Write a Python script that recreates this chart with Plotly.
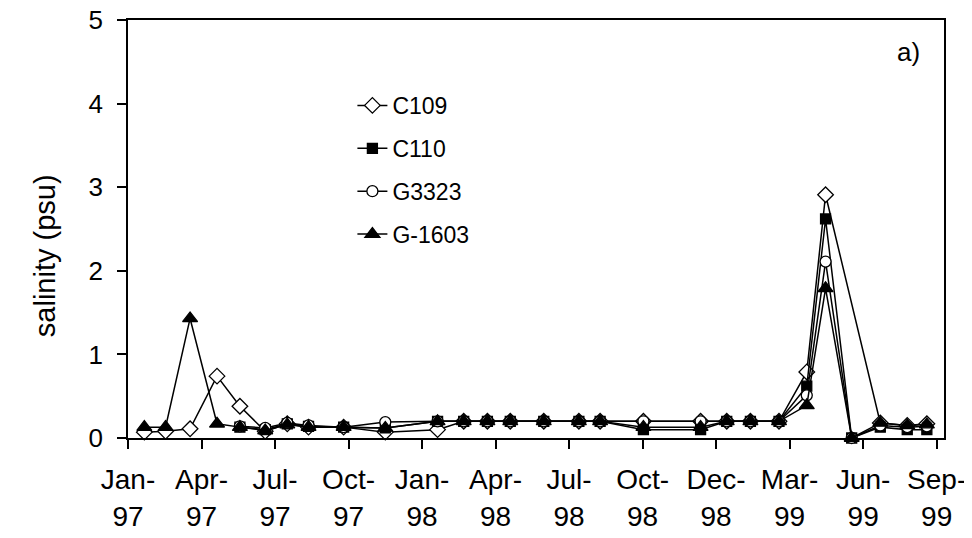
import pandas as pd
import plotly.graph_objects as go

dates = [
    "1997-01-29", "1997-02-24", "1997-03-26", "1997-04-28", "1997-05-26", "1997-06-26",
    "1997-07-23", "1997-08-18", "1997-09-30", "1997-11-20", "1998-01-23", "1998-02-24",
    "1998-03-25", "1998-04-22", "1998-06-02", "1998-07-15", "1998-08-10", "1998-10-02",
    "1998-12-11", "1999-01-12", "1999-02-10", "1999-03-17", "1999-04-20", "1999-05-13",
    "1999-06-14", "1999-07-19", "1999-08-21", "1999-09-14",
]

c109 = [0.07, 0.08, 0.11, 0.74, 0.38, 0.08, 0.17, 0.13, 0.13, 0.07, 0.10, 0.20,
        0.20, 0.20, 0.20, 0.20, 0.20, 0.20, 0.20, 0.20, 0.20, 0.20, 0.79, 2.91,
        None, 0.18, 0.15, 0.17]
c110 = [None, None, None, None, 0.13, 0.10, 0.17, 0.14, 0.13, 0.12, 0.20, 0.20,
        0.20, 0.20, 0.20, 0.20, 0.20, 0.10, 0.10, 0.20, 0.20, 0.20, 0.62, 2.62,
        0.00, 0.13, 0.10, 0.10]
g3323 = [None, None, None, None, 0.14, 0.12, 0.18, 0.15, 0.13, 0.19, 0.20, 0.20,
         0.20, 0.20, 0.20, 0.20, 0.20, 0.20, 0.20, 0.20, 0.20, 0.20, 0.51, 2.11,
         0.00, 0.15, 0.13, 0.14]
g1603 = [0.13, 0.13, 1.43, 0.17, 0.13, 0.09, 0.16, 0.13, 0.13, 0.12, 0.20, 0.20,
         0.20, 0.20, 0.20, 0.20, 0.20, 0.13, 0.13, 0.20, 0.20, 0.20, 0.39, 1.79,
         0.00, 0.18, 0.15, 0.16]

series_names = ["C109", "C110", "G3323", "G-1603"]
tick_start = "1997-01-09"
tick_count = 12
tick_step_days = 90
x_range = ["1997-01-09", "1999-10-05"]
y_ticks = [0, 1, 2, 3, 4, 5]
y_title = "salinity (psu)"
panel_label = "a)"

FONT = "Liberation Sans, Arial, sans-serif"

tickvals = pd.date_range(tick_start, periods=tick_count, freq=f"{tick_step_days}D")
ticktext = [d.strftime("%b-") + "<br>" + d.strftime("%y") for d in tickvals]

styles = [
    dict(symbol="diamond", color="white", size=12),
    dict(symbol="square", color="black", size=10),
    dict(symbol="circle", color="white", size=11),
    dict(symbol="triangle-up", color="black", size=13),
]

fig = go.Figure()
for name, vals, st, grp in zip(series_names, [c109, c110, g3323, g1603], styles, "abcd"):
    fig.add_trace(go.Scatter(
        x=pd.to_datetime(dates), y=vals, name=name, mode="lines+markers",
        legendgroup=grp, connectgaps=True, cliponaxis=False,
        line=dict(color="black", width=1.5),
        marker=dict(symbol=st["symbol"], size=st["size"], color=st["color"],
                    line=dict(color="black", width=1.3)),
    ))

# page body has an 8px default margin, so the figure is sized/offset to compensate
fig.update_layout(
    width=964, height=530,
    margin=dict(l=120, r=28, t=12, b=100, autoexpand=False),
    paper_bgcolor="white", plot_bgcolor="white",
    font=dict(family=FONT, color="black"),
    showlegend=True,
    legend=dict(x=0.275, y=0.847, xanchor="left", yanchor="top",
                font=dict(size=23, family=FONT, color="black"),
                bgcolor="rgba(0,0,0,0)", tracegroupgap=10, itemwidth=30),
    annotations=[
        dict(text=panel_label, x=0.973, y=0.923, xref="paper", yref="paper",
             xanchor="right", yanchor="middle", showarrow=False,
             font=dict(size=26, family=FONT, color="black")),
        dict(text=y_title, x=-0.1017, y=0.435, xref="paper", yref="paper",
             xanchor="center", yanchor="middle", textangle=-90, showarrow=False,
             font=dict(size=29, family=FONT, color="black")),
    ],
)
fig.update_xaxes(
    type="date", range=x_range, tickmode="array", tickvals=tickvals, ticktext=ticktext,
    showline=True, linecolor="black", linewidth=1.5, mirror=True, automargin=False,
    ticks="outside", ticklen=9, tickwidth=1.5, tickcolor="black",
    showgrid=False, zeroline=False, tickangle=0, ticklabeloverflow="allow",
    tickfont=dict(size=28, family=FONT, color="black"), ticklabelstandoff=7,
)
fig.update_yaxes(
    range=[0, 5], tickmode="array", tickvals=y_ticks,
    showline=True, linecolor="black", linewidth=1.5, mirror=True, automargin=False,
    ticks="outside", ticklen=9, tickwidth=1.5, tickcolor="black",
    showgrid=False, zeroline=False, ticklabeloverflow="allow",
    tickfont=dict(size=26, family=FONT, color="black"), ticklabelstandoff=9,
)

fig.write_html("out.html")
